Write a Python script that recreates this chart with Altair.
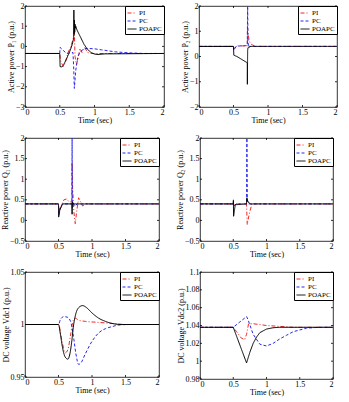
import altair as alt
import pandas as pd

FONT = "Liberation Serif"
SERIES = ["PI", "PC", "POAPC"]
COLORS = ["#f02828", "#2828f0", "#000000"]
DASHES = [[4, 2, 1, 2], [3, 2], [1, 0]]

# ---- Active power P1 ----
P1_PI_T = [0, 0.5, 0.51, 0.55, 0.58, 0.62, 0.66, 0.7, 0.71, 0.72, 0.74, 0.76, 0.79, 0.82, 0.86, 0.9, 0.95, 2]
P1_PI_V = [-0.35, -0.35, -0.7, -1.0, -0.8, -0.3, 0.0, 0.45, 0.7, -0.5, -0.9, -0.65, -0.1, -0.3, -0.05, -0.3, -0.35, -0.35]
P1_PC_T = [0, 0.5, 0.505, 0.55, 0.6, 0.69, 0.7, 0.71, 0.73, 0.76, 0.8, 0.85, 0.9, 1.0, 1.1, 1.2, 1.3, 1.5, 1.7, 2]
P1_PC_V = [-0.35, -0.35, -0.05, -0.2, -0.35, -0.3, -1.0, -2.08, -1.2, -0.5, -0.25, -0.12, -0.1, -0.12, -0.17, -0.22, -0.27, -0.32, -0.35, -0.35]
P1_PO_T = [0, 0.5, 0.505, 0.53, 0.55, 0.6, 0.65, 0.68, 0.7, 0.703, 0.707, 0.711, 0.715, 0.72, 0.725, 0.73, 0.75, 0.8, 0.85, 0.9, 0.95, 1.0, 1.05, 1.15, 2]
P1_PO_V = [-0.35, -0.35, -1.0, -1.02, -0.95, -0.6, -0.2, 0.1, 0.4, 1.8, 0.6, 1.3, 0.7, 1.1, 0.9, 1.0, 0.8, 0.45, 0.1, -0.15, -0.3, -0.38, -0.4, -0.37, -0.35]

# ---- Active power P2 ----
P2_PI_T = [0, 0.5, 0.505, 0.53, 0.56, 0.7, 0.703, 0.71, 0.73, 0.75, 0.78, 0.82, 2]
P2_PI_V = [0.4, 0.4, 0.3, 0.38, 0.42, 0.42, 1.2, 0.9, 0.6, 0.5, 0.45, 0.4, 0.4]
P2_PC_T = [0, 0.5, 0.505, 0.54, 0.6, 0.69, 0.7, 0.705, 0.71, 0.72, 0.75, 2]
P2_PC_V = [0.4, 0.4, 0.25, 0.4, 0.42, 0.43, 0.45, 2.0, 0.6, 0.35, 0.4, 0.4]
P2_PO_T = [0, 0.5, 0.505, 0.55, 0.7, 0.701, 0.705, 0.71, 0.73, 2]
P2_PO_V = [0.4, 0.4, 0.05, 0.0, -0.25, -1.1, 0.25, 0.35, 0.4, 0.4]

# ---- Reactive power Q1 ----
Q1_PI_T = [0, 0.5, 0.505, 0.53, 0.58, 0.62, 0.66, 0.7, 0.703, 0.71, 0.73, 0.75, 0.77, 0.8, 0.83, 0.86, 0.9, 2]
Q1_PI_V = [0.4, 0.4, 0.2, 0.3, 0.5, 0.52, 0.45, 0.45, 1.4, 0.8, 0.2, -0.08, 0.2, 0.55, 0.45, 0.35, 0.4, 0.4]
Q1_PC_T = [0, 0.5, 0.503, 0.52, 0.56, 0.7, 0.703, 0.707, 0.715, 0.74, 0.78, 2]
Q1_PC_V = [0.4, 0.4, 0.12, 0.3, 0.4, 0.4, 2.0, 0.3, 0.45, 0.35, 0.4, 0.4]
Q1_PO_T = [0, 0.5, 0.502, 0.52, 0.56, 0.7, 0.703, 0.707, 0.72, 2]
Q1_PO_V = [0.4, 0.4, 0.08, 0.25, 0.4, 0.4, 0.15, 0.45, 0.4, 0.4]

# ---- Reactive power Q2 ----
Q2_PI_T = [0, 0.5, 0.503, 0.507, 0.55, 0.7, 0.71, 0.74, 0.78, 2]
Q2_PI_V = [0.4, 0.4, 0.5, 0.38, 0.4, 0.4, -0.1, 0.15, 0.4, 0.4]
Q2_PC_T = [0, 0.5, 0.503, 0.507, 0.55, 0.7, 0.705, 0.712, 0.73, 2]
Q2_PC_V = [0.4, 0.4, 0.45, 0.35, 0.4, 0.4, 2.0, 0.5, 0.4, 0.4]
Q2_PO_T = [0, 0.5, 0.502, 0.505, 0.53, 0.7, 0.705, 0.72, 0.76, 2]
Q2_PO_V = [0.4, 0.4, 0.48, 0.1, 0.38, 0.4, 0.55, 0.45, 0.4, 0.4]

# ---- DC voltage Vdc1 ----
V1_PI_T = [0, 0.5, 0.55, 0.6, 0.64, 0.68, 0.72, 0.75, 0.8, 0.9, 1.1, 1.3, 1.5, 2]
V1_PI_V = [1, 1, 0.985, 0.973, 0.976, 0.99, 1.004, 1.006, 1.004, 1.003, 1.002, 1.001, 1.0, 1.0]
V1_PC_T = [0, 0.5, 0.53, 0.58, 0.63, 0.68, 0.72, 0.76, 0.8, 0.83, 0.9, 1.0, 1.1, 1.2, 1.3, 1.4, 1.55, 2]
V1_PC_V = [1, 1, 1.005, 1.0075, 1.007, 1.003, 0.99, 0.972, 0.962, 0.963, 0.972, 0.984, 0.992, 0.996, 0.998, 0.9995, 1.0, 1.0]
V1_PO_T = [0, 0.5, 0.53, 0.56, 0.6, 0.64, 0.67, 0.7, 0.72, 0.75, 0.8, 0.86, 0.92, 1.0, 1.1, 1.2, 1.3, 1.45, 2]
V1_PO_V = [1, 1, 0.99, 0.978, 0.969, 0.967, 0.972, 0.985, 0.997, 1.008, 1.016, 1.018, 1.016, 1.011, 1.006, 1.003, 1.001, 1.0, 1.0]

# ---- DC voltage Vdc2 ----
V2_PI_T = [0, 0.5, 0.55, 0.62, 0.67, 0.7, 0.73, 0.8, 0.9, 1.0, 1.2, 1.4, 2]
V2_PI_V = [1.038, 1.038, 1.033, 1.026, 1.024, 1.03, 1.042, 1.042, 1.041, 1.04, 1.039, 1.038, 1.038]
V2_PC_T = [0, 0.5, 0.6, 0.7, 0.72, 0.8, 0.9, 1.0, 1.1, 1.2, 1.3, 1.4, 1.5, 1.6, 1.8, 2]
V2_PC_V = [1.038, 1.038, 1.044, 1.05, 1.047, 1.03, 1.019, 1.017, 1.02, 1.025, 1.029, 1.033, 1.035, 1.037, 1.038, 1.038]
V2_PO_T = [0, 0.5, 0.7, 0.75, 0.8, 0.85, 0.9, 1.0, 1.1, 1.2, 2]
V2_PO_V = [1.038, 1.038, 0.998, 1.01, 1.02, 1.027, 1.032, 1.036, 1.0375, 1.038, 1.038]

X_TICKS = [0, 0.5, 1, 1.5, 2]
TICK_LEN = 2


def frame(pi, pc, po):
    rows = []
    for name, (ts, vs) in zip(SERIES, [pi, pc, po]):
        for i, (t, v) in enumerate(zip(ts, vs)):
            rows.append({"t": t, "v": v, "series": name, "i": i})
    return pd.DataFrame(rows)


def panel(df, ydom, yticks, ytitle, w, h, interp="linear"):
    legend = alt.Legend(
        orient="top-right", offset=0, title=None, padding=2, rowPadding=0,
        labelFont=FONT, labelFontSize=7, labelColor="black", labelOffset=2,
        symbolType="stroke", symbolSize=81, symbolStrokeWidth=1,
        strokeColor="black", fillColor="white", cornerRadius=0,
    )
    xs = alt.Scale(domain=[0, 2], nice=False)
    ys = alt.Scale(domain=ydom, nice=False, zero=False)
    xax = alt.Axis(values=X_TICKS, format="~g")
    yax = alt.Axis(values=yticks, format="~g")
    xenc = alt.X("t:Q", title="Time (sec)", scale=xs, axis=xax)
    yenc = alt.Y("v:Q", title=ytitle, scale=ys, axis=yax)
    lines = alt.Chart(df).mark_line(strokeWidth=1, interpolate=interp, clip=True).encode(
        x=xenc, y=yenc,
        color=alt.Color("series:N", scale=alt.Scale(domain=SERIES, range=COLORS), legend=legend),
        strokeDash=alt.StrokeDash("series:N", scale=alt.Scale(domain=SERIES, range=DASHES), legend=legend),
        order="i:Q",
    )
    # inward tick marks on all four sides of the box
    xt = pd.DataFrame({"t": X_TICKS})
    yt = pd.DataFrame({"v": yticks})
    tick = dict(color="black", strokeWidth=0.8)
    xb = alt.Chart(xt).mark_rule(**tick).encode(x=xenc, y=alt.value(h), y2=alt.value(h - TICK_LEN))
    xtop = alt.Chart(xt).mark_rule(**tick).encode(x=xenc, y=alt.value(0), y2=alt.value(TICK_LEN))
    yl = alt.Chart(yt).mark_rule(**tick).encode(y=yenc, x=alt.value(0), x2=alt.value(TICK_LEN))
    yr = alt.Chart(yt).mark_rule(**tick).encode(y=yenc, x=alt.value(w), x2=alt.value(w - TICK_LEN))
    return alt.layer(lines, xb, xtop, yl, yr).properties(width=w, height=h)


p1 = panel(frame((P1_PI_T, P1_PI_V), (P1_PC_T, P1_PC_V), (P1_PO_T, P1_PO_V)),
           [-3, 2], [-3, -2, -1, 0, 1, 2], "Active power P₁ (p.u.)", 139, 101)
p2 = panel(frame((P2_PI_T, P2_PI_V), (P2_PC_T, P2_PC_V), (P2_PO_T, P2_PO_V)),
           [-2, 2], [-2, -1, 0, 1, 2], "Active power P₂ (p.u.)", 138, 101)
q1 = panel(frame((Q1_PI_T, Q1_PI_V), (Q1_PC_T, Q1_PC_V), (Q1_PO_T, Q1_PO_V)),
           [-0.5, 2], [-0.5, 0, 0.5, 1, 1.5, 2], "Reactive power Q₁ (p.u.)", 134, 103)
q2 = panel(frame((Q2_PI_T, Q2_PI_V), (Q2_PC_T, Q2_PC_V), (Q2_PO_T, Q2_PO_V)),
           [-0.5, 2], [-0.5, 0, 0.5, 1, 1.5, 2], "Reactive power Q₂ (p.u.)", 133, 103)
v1 = panel(frame((V1_PI_T, V1_PI_V), (V1_PC_T, V1_PC_V), (V1_PO_T, V1_PO_V)),
           [0.95, 1.05], [0.95, 1, 1.05], "DC voltage Vdc1 (p.u.)", 134, 105, "monotone")
v2 = panel(frame((V2_PI_T, V2_PI_V), (V2_PC_T, V2_PC_V), (V2_PO_T, V2_PO_V)),
           [0.98, 1.1], [0.98, 1, 1.02, 1.04, 1.06, 1.08, 1.1], "DC voltage Vdc2 (p.u.)", 133, 107)


def row(a, b, sp):
    return alt.hconcat(a, b, spacing=sp).resolve_scale(color="independent", strokeDash="independent")


chart = alt.vconcat(
    row(p1, p2, 16), row(q1, q2, 16), row(v1, v2, 16), spacing=8
).resolve_scale(
    color="independent", strokeDash="independent"
).configure(
    padding={"left": 1, "top": 1, "right": 2, "bottom": 0},
    background="white",
).configure_view(
    stroke="black", strokeWidth=0.8,
).configure_axis(
    labelFont=FONT, titleFont=FONT, labelFontSize=8, titleFontSize=8,
    titleFontWeight="normal", labelColor="black", titleColor="black",
    domain=False, grid=False, ticks=False,
    labelPadding=1, titlePadding=0,
)

chart.save("out.html", embed_options={"renderer": "svg", "actions": False})
